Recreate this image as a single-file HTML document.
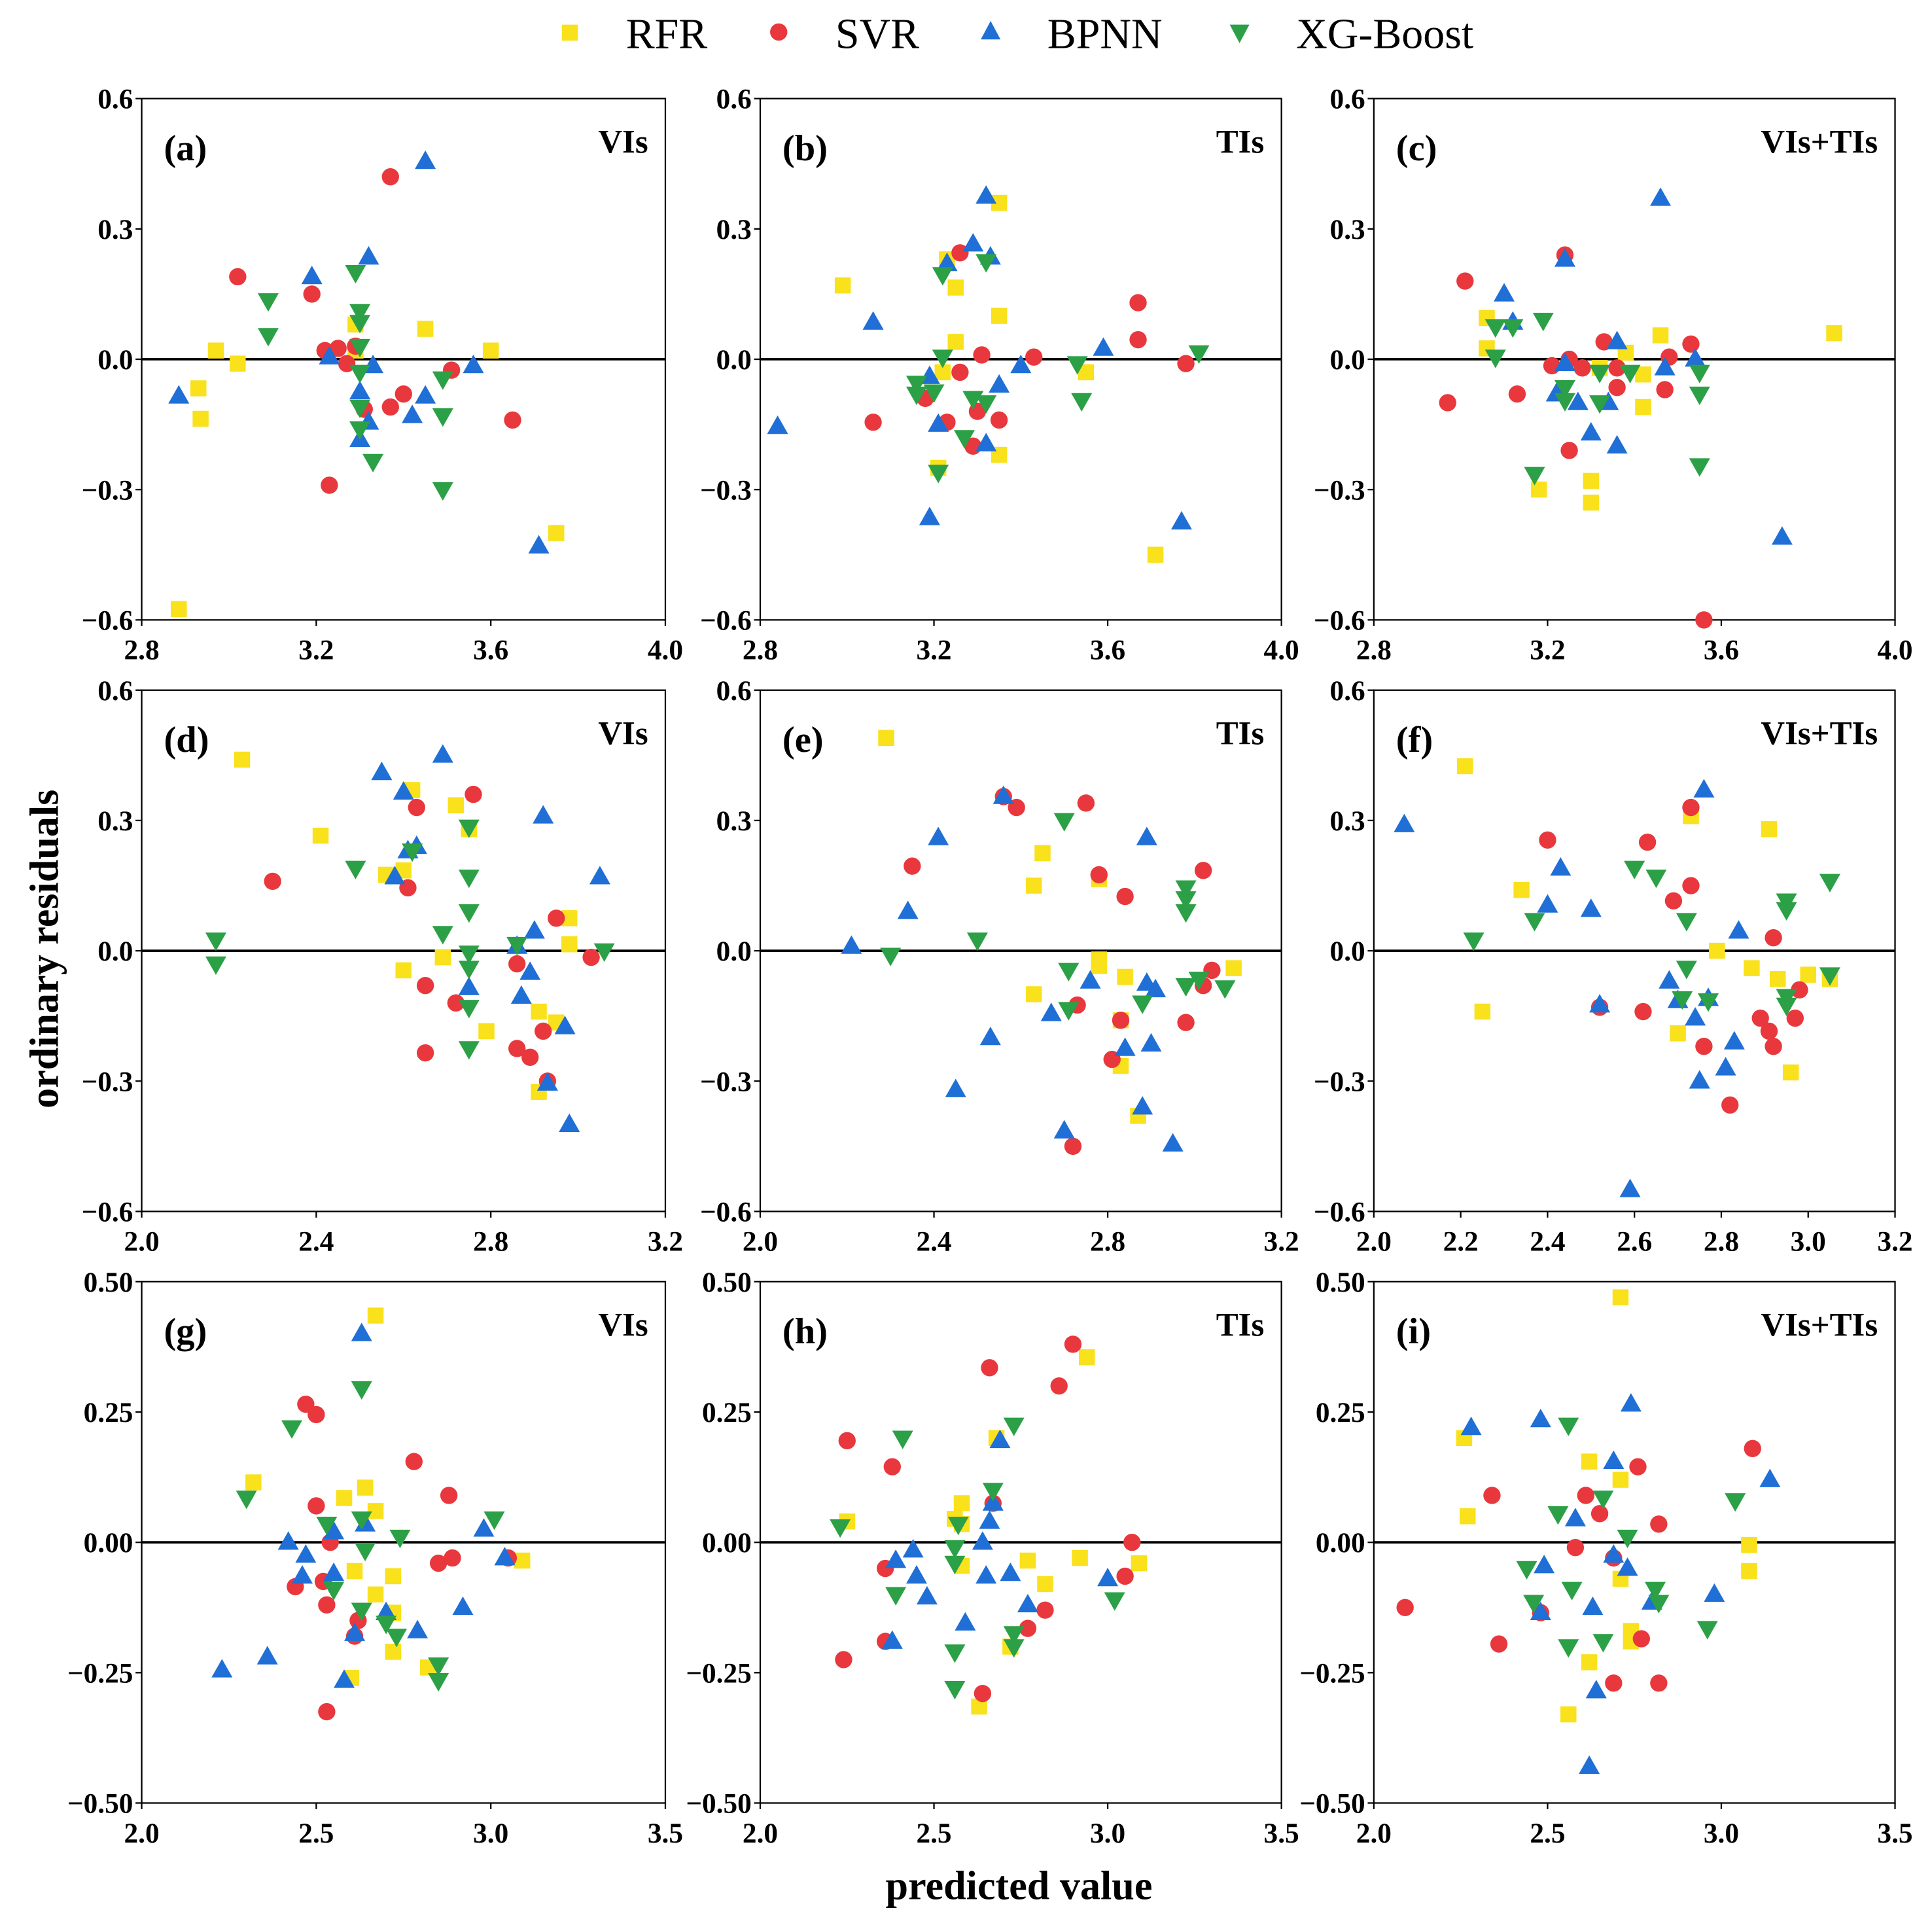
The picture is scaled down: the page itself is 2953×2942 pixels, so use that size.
<!DOCTYPE html>
<html><head><meta charset="utf-8"><style>
html,body{margin:0;padding:0;background:#fff;}
svg{display:block;}
text{font-family:"Liberation Serif","DejaVu Serif",serif;}
</style></head><body>
<svg id="chart" xmlns="http://www.w3.org/2000/svg" width="2953" height="2942" viewBox="0 0 1568 1562" preserveAspectRatio="none">
<g>
<rect x="456" y="20" width="13" height="13" fill="#f9e11c"/>
<text x="508" y="39" font-size="35">RFR</text>
<circle cx="632" cy="26" r="7" fill="#e8383d"/>
<text x="678" y="39" font-size="35">SVR</text>
<polygon points="804,17 812,32 796,32" fill="#1f6fd6"/>
<text x="850" y="39" font-size="35">BPNN</text>
<polygon points="998,20 1014,20 1006,35" fill="#2ca046"/>
<text x="1052" y="39" font-size="35">XG-Boost</text>
</g>
<text x="0" y="0" font-size="33" font-weight="bold" text-anchor="middle" transform="translate(47,770) rotate(-90)">ordinary residuals</text>
<text x="827" y="1541" font-size="33" font-weight="bold" text-anchor="middle">predicted value</text>
</svg>
<script>
const a_rfr_x=[2.885,2.93,2.935,2.97,3.02,3.29,3.29,3.45,3.60,3.75];
const a_rfr_y=[-0.575,-0.067,-0.137,0.02,-0.01,0.08,0.02,0.07,0.02,-0.40];
const a_svr_x=[3.02,3.19,3.22,3.25,3.27,3.29,3.31,3.37,3.37,3.40,3.23,3.51,3.65];
const a_svr_y=[0.19,0.15,0.02,0.025,-0.01,0.03,-0.115,0.42,-0.11,-0.08,-0.29,-0.025,-0.14];
const a_bp_x=[2.885,3.19,3.23,3.30,3.32,3.32,3.33,3.30,3.42,3.45,3.45,3.56,3.71];
const a_bp_y=[-0.085,0.19,0.005,-0.075,-0.145,0.235,-0.015,-0.185,-0.13,-0.085,0.455,-0.015,-0.43];
const a_xg_x=[3.09,3.09,3.29,3.30,3.30,3.30,3.30,3.30,3.30,3.33,3.49,3.49,3.49];
const a_xg_y=[0.135,0.055,0.2,0.11,0.085,0.03,-0.03,-0.11,-0.16,-0.235,-0.045,-0.13,-0.30];

const b_rfr_x=[2.99,3.25,3.25,3.22,3.21,3.35,3.35,3.35,3.55,3.71,3.23];
const b_rfr_y=[0.17,0.165,0.04,-0.03,-0.25,0.36,0.10,-0.22,-0.03,-0.45,0.23];
const b_svr_x=[3.06,3.26,3.26,3.23,3.18,3.31,3.30,3.29,3.35,3.43,3.67,3.67,3.78];
const b_svr_y=[-0.145,0.245,-0.03,-0.145,-0.09,0.01,-0.12,-0.2,-0.14,0.005,0.13,0.045,-0.01];
const b_bp_x=[2.84,3.06,3.19,3.19,3.23,3.21,3.29,3.32,3.33,3.35,3.32,3.40,3.59,3.77];
const b_bp_y=[-0.155,0.085,-0.365,-0.04,0.22,-0.15,0.265,0.375,0.235,-0.06,-0.195,-0.015,0.025,-0.375];
const b_xg_x=[3.16,3.16,3.22,3.22,3.20,3.21,3.29,3.27,3.32,3.32,3.53,3.54,3.81];
const b_xg_y=[-0.055,-0.08,0.195,0.005,-0.075,-0.26,-0.09,-0.18,-0.1,0.225,-0.01,-0.095,0.015];

const c_rfr_x=[3.06,3.06,3.18,3.30,3.30,3.38,3.42,3.42,3.46,3.86,3.32];
const c_rfr_y=[0.095,0.025,-0.30,-0.28,-0.33,0.015,-0.11,-0.035,0.055,0.06,-0.02];
const c_svr_x=[2.97,3.01,3.13,3.21,3.24,3.25,3.28,3.25,3.33,3.36,3.36,3.47,3.48,3.53,3.56];
const c_svr_y=[-0.10,0.18,-0.08,-0.015,0.24,0.0,-0.02,-0.21,0.04,-0.02,-0.065,-0.07,0.005,0.035,-0.60];
const c_bp_x=[3.10,3.12,3.22,3.24,3.24,3.27,3.30,3.34,3.36,3.36,3.47,3.54,3.46,3.74];
const c_bp_y=[0.15,0.085,-0.08,0.23,-0.01,-0.10,-0.17,-0.10,-0.20,0.04,-0.02,0.0,0.37,-0.41];
const c_xg_x=[3.08,3.08,3.12,3.19,3.17,3.24,3.24,3.32,3.32,3.39,3.55,3.55,3.55];
const c_xg_y=[0.075,0.005,0.075,0.09,-0.265,-0.065,-0.095,-0.03,-0.10,-0.03,-0.03,-0.08,-0.245];

const d_rfr_x=[2.23,2.41,2.56,2.60,2.62,2.60,2.69,2.72,2.75,2.79,2.91,2.95,2.91,2.98,2.98];
const d_rfr_y=[0.44,0.265,0.175,0.185,0.37,-0.045,-0.015,0.335,0.28,-0.185,-0.14,-0.165,-0.325,0.075,0.015];
const d_svr_x=[2.30,2.61,2.63,2.65,2.65,2.72,2.76,2.86,2.86,2.89,2.92,2.93,2.95,3.03];
const d_svr_y=[0.16,0.145,0.33,-0.08,-0.235,-0.12,0.36,-0.03,-0.225,-0.245,-0.185,-0.30,0.075,-0.015];
const d_bp_x=[2.55,2.60,2.61,2.63,2.58,2.69,2.75,2.86,2.87,2.89,2.90,2.92,2.93,2.97,2.98,3.05];
const d_bp_y=[0.41,0.365,0.23,0.24,0.17,0.45,-0.085,0.01,-0.105,-0.05,0.045,0.31,-0.305,-0.175,-0.40,0.17];
const d_xg_x=[2.17,2.17,2.49,2.62,2.69,2.75,2.75,2.75,2.75,2.75,2.75,2.75,2.86,3.06];
const d_xg_y=[0.025,-0.03,0.19,0.23,0.04,0.285,0.17,0.09,-0.005,-0.04,-0.13,-0.225,0.015,0.0];

const e_rfr_x=[2.29,2.65,2.63,2.63,2.78,2.78,2.78,2.84,2.83,2.87,3.09,2.83];
const e_rfr_y=[0.49,0.225,0.15,-0.10,-0.02,-0.035,0.165,-0.06,-0.265,-0.38,-0.04,-0.16];
const e_svr_x=[2.35,2.56,2.59,2.73,2.72,2.75,2.78,2.83,2.81,2.84,2.98,3.02,3.04,3.02];
const e_svr_y=[0.195,0.355,0.33,-0.125,-0.45,0.34,0.175,-0.16,-0.25,0.125,-0.165,0.185,-0.045,-0.08];
const e_bp_x=[2.21,2.34,2.41,2.45,2.53,2.56,2.67,2.70,2.76,2.84,2.89,2.89,2.90,2.88,2.91,2.95];
const e_bp_y=[0.01,0.09,0.26,-0.32,-0.20,0.355,-0.145,-0.415,-0.07,-0.225,0.26,-0.075,-0.215,-0.36,-0.09,-0.445];
const e_xg_x=[2.30,2.50,2.70,2.71,2.71,2.88,2.98,2.98,2.98,2.98,3.01,3.07];
const e_xg_y=[-0.01,0.025,0.30,-0.045,-0.135,-0.12,0.145,0.12,0.09,-0.08,-0.065,-0.085];

const f_rfr_x=[2.21,2.25,2.34,2.73,2.79,2.87,2.91,2.93,2.96,3.00,3.05,2.70];
const f_rfr_y=[0.425,-0.14,0.14,0.31,0.0,-0.04,0.28,-0.065,-0.28,-0.055,-0.065,-0.19];
const f_svr_x=[2.40,2.52,2.62,2.63,2.69,2.73,2.73,2.76,2.82,2.89,2.91,2.92,2.92,2.97,2.98];
const f_svr_y=[0.255,-0.13,-0.14,0.25,0.115,0.33,0.15,-0.22,-0.355,-0.155,-0.185,0.03,-0.22,-0.155,-0.09];
const f_bp_x=[2.07,2.40,2.43,2.50,2.52,2.59,2.68,2.70,2.74,2.75,2.76,2.77,2.81,2.83,2.84];
const f_bp_y=[0.29,0.105,0.19,0.095,-0.125,-0.55,-0.07,-0.115,-0.155,-0.30,0.37,-0.11,-0.27,-0.21,0.045];
const f_xg_x=[2.23,2.37,2.60,2.65,2.72,2.72,2.71,2.77,2.95,2.95,2.95,2.95,3.05,3.05];
const f_xg_y=[0.025,0.07,0.19,0.17,0.07,-0.04,-0.11,-0.115,0.115,0.095,-0.105,-0.125,0.16,-0.055];

const g_rfr_x=[2.32,2.58,2.64,2.67,2.67,2.67,2.72,2.72,2.72,2.82,2.60,3.09,2.61];
const g_rfr_y=[0.115,0.085,0.105,0.435,0.06,-0.10,-0.065,-0.135,-0.21,-0.24,-0.26,-0.035,-0.055];
const g_svr_x=[2.44,2.47,2.50,2.50,2.52,2.53,2.54,2.53,2.61,2.62,2.78,2.85,2.88,2.89,3.05];
const g_svr_y=[-0.085,0.265,0.245,0.07,-0.075,-0.12,0.0,-0.325,-0.18,-0.15,0.155,-0.04,0.09,-0.03,-0.03];
const g_bp_x=[2.23,2.36,2.42,2.46,2.47,2.55,2.55,2.58,2.61,2.63,2.64,2.70,2.79,2.92,2.98,3.04];
const g_bp_y=[-0.245,-0.22,0.0,-0.065,-0.025,-0.06,0.02,-0.265,-0.175,0.40,0.035,-0.135,-0.17,-0.125,0.025,-0.03];
const g_xg_x=[2.30,2.43,2.53,2.55,2.63,2.63,2.64,2.63,2.70,2.73,2.74,2.85,2.85,3.01];
const g_xg_y=[0.085,0.22,0.035,-0.09,0.295,0.045,-0.015,-0.13,-0.155,-0.18,0.01,-0.235,-0.265,0.045];

const h_rfr_x=[2.25,2.56,2.58,2.58,2.58,2.63,2.68,2.77,2.72,2.82,2.92,2.94,3.09];
const h_rfr_y=[0.04,0.045,0.075,0.035,-0.045,-0.315,0.20,-0.035,-0.20,-0.08,-0.03,0.355,-0.04];
const h_svr_x=[2.25,2.24,2.38,2.36,2.36,2.64,2.66,2.67,2.77,2.82,2.86,2.90,3.05,3.07];
const h_svr_y=[0.195,-0.225,0.145,-0.05,-0.19,-0.29,0.335,0.075,-0.165,-0.13,0.30,0.38,-0.065,0.0];
const h_bp_x=[2.39,2.38,2.44,2.45,2.48,2.59,2.64,2.66,2.67,2.65,2.69,2.72,2.77,3.00];
const h_bp_y=[-0.035,-0.19,-0.015,-0.065,-0.105,-0.155,0.0,0.04,0.075,-0.065,0.195,-0.06,-0.12,-0.07];
const h_xg_x=[2.23,2.41,2.39,2.57,2.56,2.56,2.56,2.56,2.67,2.73,2.73,2.73,3.02];
const h_xg_y=[0.03,0.20,-0.10,0.035,-0.01,-0.04,-0.21,-0.28,0.10,0.225,-0.175,-0.20,-0.11];

const i_rfr_x=[2.26,2.27,2.56,2.62,2.62,2.71,2.71,2.71,2.74,2.74,3.08,3.08];
const i_rfr_y=[0.20,0.05,-0.33,0.155,-0.23,0.47,0.12,-0.07,-0.17,-0.19,-0.005,-0.055];
const i_svr_x=[2.09,2.34,2.36,2.48,2.58,2.61,2.65,2.69,2.69,2.76,2.77,2.82,2.82,3.09];
const i_svr_y=[-0.125,0.09,-0.195,-0.135,-0.01,0.09,0.055,-0.03,-0.27,0.145,-0.185,0.035,-0.27,0.18];
const i_bp_x=[2.28,2.48,2.48,2.49,2.58,2.63,2.62,2.64,2.69,2.69,2.73,2.74,2.80,2.98,3.14];
const i_bp_y=[0.22,0.235,-0.135,-0.045,0.045,-0.125,-0.43,-0.285,0.155,-0.025,-0.05,0.265,-0.115,-0.10,0.12];
const i_xg_x=[2.44,2.46,2.53,2.56,2.57,2.56,2.66,2.66,2.73,2.81,2.82,2.96,3.04];
const i_xg_y=[-0.05,-0.115,0.055,0.225,-0.09,-0.20,0.085,-0.19,0.01,-0.09,-0.115,-0.165,0.08];

const ticksX12=["2.0","2.4","2.8","3.2"];
const ticksX1=["2.8","3.2","3.6","4.0"];
const ticksXf=["2.0","2.2","2.4","2.6","2.8","3.0","3.2"];
const ticksX3=["2.0","2.5","3.0","3.5"];
const ticksY12=["0.6","0.3","0.0","−0.3","−0.6"];
const ticksY3=["0.50","0.25","0.00","−0.25","−0.50"];

const panels=[
 {id:'a',tag:'VIs',col:0,row:0,x0:2.8,x1:4.0,y0:-0.6,y1:0.6,xt:ticksX1,yt:ticksY12,s:[a_rfr_x,a_rfr_y,a_svr_x,a_svr_y,a_bp_x,a_bp_y,a_xg_x,a_xg_y]},
 {id:'b',tag:'TIs',col:1,row:0,x0:2.8,x1:4.0,y0:-0.6,y1:0.6,xt:ticksX1,yt:ticksY12,s:[b_rfr_x,b_rfr_y,b_svr_x,b_svr_y,b_bp_x,b_bp_y,b_xg_x,b_xg_y]},
 {id:'c',tag:'VIs+TIs',col:2,row:0,x0:2.8,x1:4.0,y0:-0.6,y1:0.6,xt:ticksX1,yt:ticksY12,s:[c_rfr_x,c_rfr_y,c_svr_x,c_svr_y,c_bp_x,c_bp_y,c_xg_x,c_xg_y]},
 {id:'d',tag:'VIs',col:0,row:1,x0:2.0,x1:3.2,y0:-0.6,y1:0.6,xt:ticksX12,yt:ticksY12,s:[d_rfr_x,d_rfr_y,d_svr_x,d_svr_y,d_bp_x,d_bp_y,d_xg_x,d_xg_y]},
 {id:'e',tag:'TIs',col:1,row:1,x0:2.0,x1:3.2,y0:-0.6,y1:0.6,xt:ticksX12,yt:ticksY12,s:[e_rfr_x,e_rfr_y,e_svr_x,e_svr_y,e_bp_x,e_bp_y,e_xg_x,e_xg_y]},
 {id:'f',tag:'VIs+TIs',col:2,row:1,x0:2.0,x1:3.2,y0:-0.6,y1:0.6,xt:ticksXf,yt:ticksY12,s:[f_rfr_x,f_rfr_y,f_svr_x,f_svr_y,f_bp_x,f_bp_y,f_xg_x,f_xg_y]},
 {id:'g',tag:'VIs',col:0,row:2,x0:2.0,x1:3.5,y0:-0.5,y1:0.5,xt:ticksX3,yt:ticksY3,s:[g_rfr_x,g_rfr_y,g_svr_x,g_svr_y,g_bp_x,g_bp_y,g_xg_x,g_xg_y]},
 {id:'h',tag:'TIs',col:1,row:2,x0:2.0,x1:3.5,y0:-0.5,y1:0.5,xt:ticksX3,yt:ticksY3,s:[h_rfr_x,h_rfr_y,h_svr_x,h_svr_y,h_bp_x,h_bp_y,h_xg_x,h_xg_y]},
 {id:'i',tag:'VIs+TIs',col:2,row:2,x0:2.0,x1:3.5,y0:-0.5,y1:0.5,xt:ticksX3,yt:ticksY3,s:[i_rfr_x,i_rfr_y,i_svr_x,i_svr_y,i_bp_x,i_bp_y,i_xg_x,i_xg_y]}
];
const colX=[[115,540],[617,1040],[1115,1538]];
const rowY=[[80,503],[560,983],[1040,1463]];
const NS='http://www.w3.org/2000/svg';
const svg=document.getElementById('chart');
function mk(tag,attrs,parent){const e=document.createElementNS(NS,tag);for(const k in attrs)e.setAttribute(k,attrs[k]);parent.appendChild(e);return e;}
const names=['rfr','svr','bpnn','xgboost'];
panels.forEach(p=>{
  const L=colX[p.col][0],R=colX[p.col][1],T=rowY[p.row][0],B=rowY[p.row][1];
  const sx=v=>L+(v-p.x0)/(p.x1-p.x0)*(R-L);
  const sy=v=>T+(p.y1-v)/(p.y1-p.y0)*(B-T);
  const g=mk('g',{},svg);
  
  
  const fr=mk('rect',{x:L,y:T,width:R-L,height:B-T,fill:'none',stroke:'#000','stroke-width':1.2},g);
  
  
  p.xt.forEach((t,k)=>{
    const v=p.x0+k*(p.x1-p.x0)/(p.xt.length-1);
    const x=sx(v);
    mk('line',{x1:x,x2:x,y1:B,y2:B+5,stroke:'#000','stroke-width':1.2},g);
    const tx=mk('text',{x:x,y:B+32,'font-size':23,'font-weight':'bold','text-anchor':'middle'},g);
    tx.textContent=t;
    
    
  });
  p.yt.forEach((t,k)=>{
    const v=p.y1-k*(p.y1-p.y0)/(p.yt.length-1);
    const y=sy(v);
    mk('line',{x1:L-5,x2:L,y1:y,y2:y,stroke:'#000','stroke-width':1.2},g);
    const tx=mk('text',{x:L-7,y:y+8,'font-size':23,'font-weight':'bold','text-anchor':'end'},g);
    tx.textContent=t;
    
    
  });
  const zl=mk('line',{x1:L,x2:R,y1:sy(0),y2:sy(0),stroke:'#000','stroke-width':2},g);
  
  
  const lb=mk('text',{x:L+18,y:T+50,'font-size':30,'font-weight':'bold'},g);
  lb.textContent='('+p.id+')';
  
  
  const tg=mk('text',{x:R-14,y:T+44,'font-size':27,'font-weight':'bold','text-anchor':'end'},g);
  tg.textContent=p.tag;
  
  
  for(let s=0;s<4;s++){
    const xs=p.s[2*s],ys=p.s[2*s+1];
    for(let j=0;j<xs.length;j++){
      const x=sx(xs[j]),y=sy(ys[j]);let m;
      if(s===0)m=mk('rect',{x:x-6.5,y:y-6.5,width:13,height:13,fill:'#f9e11c'},g);
      else if(s===1)m=mk('circle',{cx:x,cy:y,r:7,fill:'#e8383d'},g);
      else if(s===2)m=mk('polygon',{points:`${x},${y-9} ${x+8.5},${y+6} ${x-8.5},${y+6}`,fill:'#1f6fd6'},g);
      else m=mk('polygon',{points:`${x-8.5},${y-6} ${x+8.5},${y-6} ${x},${y+9}`,fill:'#2ca046'},g);
      
      
    }
  }
});
</script>
</body></html>
